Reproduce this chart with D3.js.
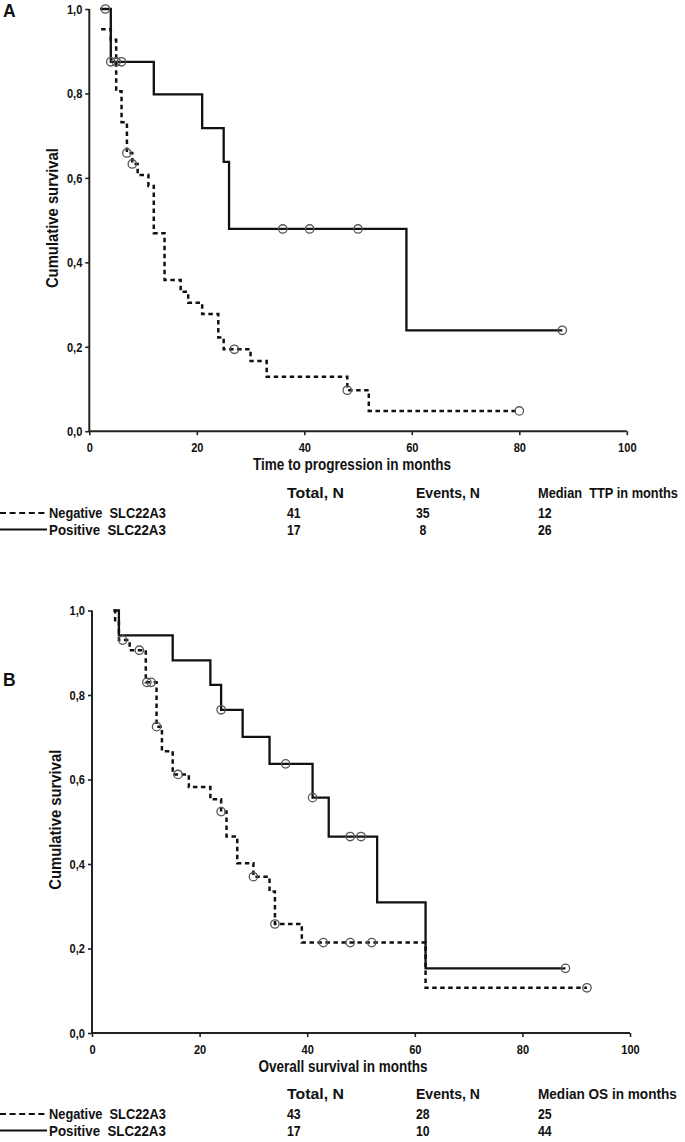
<!DOCTYPE html>
<html>
<head>
<meta charset="utf-8">
<script src="https://cdn.jsdelivr.net/npm/d3@7"></script>
<style>
  html, body { margin: 0; padding: 0; background: #fff; }
  svg { display: block; }
  .t { font-family: "Liberation Sans", Arial, sans-serif; font-weight: bold; fill: #111; }
</style>
</head>
<body>
<svg id="chart" width="685" height="1142"></svg>
<script>
// ---------- data ----------
const xTicks = [0, 20, 40, 60, 80, 100];
const yTicks = [0, 0.2, 0.4, 0.6, 0.8, 1.0];
const yTickLabels = ["0,0", "0,2", "0,4", "0,6", "0,8", "1,0"];

// Panel A – time to progression (step points: time, survival after step)
const ttpNegTime = [2.2, 4, 5, 6, 7, 8, 9, 11, 12, 14, 17, 18.4, 21, 24, 25, 30, 33, 48, 52, 80];
const ttpNegSurv = [0.952, 0.927, 0.805, 0.732, 0.659, 0.633, 0.607, 0.581, 0.469, 0.358, 0.330, 0.304, 0.2775, 0.222, 0.194, 0.166, 0.129, 0.097, 0.048, 0.048];
const ttpNegCensTime = [7, 8, 27, 48, 80];
const ttpNegCensSurv = [0.659, 0.633, 0.194, 0.097, 0.048];

const ttpPosTime = [2, 4, 12, 21, 25, 26, 59, 88];
const ttpPosSurv = [1.0, 0.875, 0.798, 0.718, 0.638, 0.479, 0.239, 0.239];
const ttpPosCensTime = [3, 4, 5, 6, 36, 41, 50, 88];
const ttpPosCensSurv = [1.0, 0.875, 0.875, 0.875, 0.479, 0.479, 0.479, 0.239];

// Panel B – overall survival
const osNegTime = [4, 4.3, 5, 7, 10, 12, 13, 15, 18, 22, 24, 25, 27, 30, 33, 34, 39, 62, 92];
const osNegSurv = [1.0, 0.977, 0.930, 0.906, 0.830, 0.725, 0.667, 0.612, 0.582, 0.553, 0.524, 0.465, 0.402, 0.370, 0.335, 0.258, 0.214, 0.107, 0.107];
const osNegCensTime = [5.7, 8.8, 10.2, 11, 12, 16, 24, 30, 34, 43, 48, 52, 92];
const osNegCensSurv = [0.930, 0.906, 0.830, 0.830, 0.725, 0.612, 0.524, 0.370, 0.258, 0.214, 0.214, 0.214, 0.107];

const osPosTime = [4, 5, 15, 22, 24, 28, 33, 41, 44, 53, 62, 88];
const osPosSurv = [1.0, 0.941, 0.882, 0.824, 0.765, 0.701, 0.637, 0.557, 0.465, 0.309, 0.153, 0.153];
const osPosCensTime = [24, 36, 41, 48, 50, 88];
const osPosCensSurv = [0.765, 0.637, 0.557, 0.465, 0.465, 0.153];

// legend tables
const groups = ["Negative  SLC22A3", "Positive  SLC22A3"];
const headersA = ["Total, N", "Events, N", "Median  TTP in months"];
const rowsA = [["41", "35", "12"], ["17", " 8", "26"]];
const headersB = ["Total, N", "Events, N", "Median OS in months"];
const rowsB = [["43", "28", "25"], ["17", "10", "44"]];

// ---------- drawing ----------
const svg = d3.select("#chart");
const zip = (a, b) => a.map((v, i) => [v, b[i]]);
const NARROW = 0.82;

// emulate a narrow bold face by condensing glyphs horizontally
function condense(sel, k) {
  sel.each(function () {
    const w = this.getComputedTextLength();
    if (w > 0) d3.select(this).attr("textLength", w * k).attr("lengthAdjust", "spacingAndGlyphs");
  });
}
function fit(sel, w) {
  sel.attr("textLength", w).attr("lengthAdjust", "spacingAndGlyphs");
}
// text drawn in a horizontally scaled group (narrow face), width given or factor
function scaledText(parent, x, y, str, size, target) {
  const gg = parent.append("g");
  const t = gg.append("text").attr("class", "t").attr("x", 0).attr("y", 0)
    .attr("font-size", size).attr("xml:space", "preserve").style("white-space", "pre").text(str);
  const w = t.node().getComputedTextLength();
  const k = target ? target / w : NARROW;
  gg.attr("transform", `translate(${x},${y}) scale(${k},1)`);
  return t;
}

function panel(cfg) {
  const x = d3.scaleLinear().domain([0, 100]).range([cfg.x0, cfg.x1]);
  const y = d3.scaleLinear().domain([0, 1]).range([cfg.yb, cfg.yt]);
  const g = svg.append("g");

  // axes
  const ax = g.append("g").attr("transform", `translate(0,${cfg.yb})`)
    .call(d3.axisBottom(x).tickValues(xTicks).tickSize(4).tickPadding(7).tickFormat(d3.format("d")));
  const ay = g.append("g").attr("transform", `translate(${cfg.x0},0)`)
    .call(d3.axisLeft(y).tickValues(yTicks).tickSize(4).tickPadding(3)
      .tickFormat((d, i) => yTickLabels[i]));
  [ax, ay].forEach(a => {
    a.select(".domain").attr("stroke", "#222").attr("stroke-width", 2);
    a.selectAll(".tick line").attr("stroke", "#222").attr("stroke-width", 1.6);
    a.selectAll(".tick text").attr("class", "t").attr("font-size", 13.5).style("font-size", "13.5px")
      .call(condense, NARROW);
  });
  ax.select(".domain").attr("d", `M${cfg.x0},0H${cfg.x1}`);
  ay.select(".domain").attr("d", `M0,${cfg.yb}V${cfg.yt}`);

  // axis titles
  g.append("text").attr("class", "t").attr("x", cfg.xlabX).attr("y", cfg.yb + 39)
    .attr("text-anchor", "middle").attr("font-size", 16.5).text(cfg.xlabel)
    .call(condense, NARROW);
  g.append("text").attr("class", "t")
    .attr("transform", `translate(${cfg.x0 - 31},${(cfg.yb + cfg.yt) / 2 - 2}) rotate(-90)`)
    .attr("text-anchor", "middle").attr("font-size", 17).text("Cumulative survival")
    .call(fit, 140);
  g.append("text").attr("x", 3).attr("y", cfg.yt + cfg.letterDy)
    .attr("font-family", "Liberation Sans, Arial, sans-serif").attr("font-weight", "bold")
    .attr("font-size", 17.5).attr("fill", "#111").text(cfg.letter);

  const line = d3.line().x(d => x(d[0])).y(d => y(d[1])).curve(d3.curveStepAfter);

  // curves
  g.append("path").datum(zip(cfg.negT, cfg.negS)).attr("d", line)
    .attr("fill", "none").attr("stroke", "#111").attr("stroke-width", 2.5)
    .attr("stroke-dasharray", "4.5,3.5");
  g.append("path").datum(zip(cfg.posT, cfg.posS)).attr("d", line)
    .attr("fill", "none").attr("stroke", "#111").attr("stroke-width", 2.3);

  // censor marks
  const cens = zip(cfg.negCT, cfg.negCS).concat(zip(cfg.posCT, cfg.posCS));
  g.selectAll("circle.c").data(cens).join("circle").attr("class", "c")
    .attr("cx", d => x(d[0])).attr("cy", d => y(d[1])).attr("r", 4.2)
    .attr("fill", "none").attr("stroke", "#555").attr("stroke-width", 1.3);

  // legend table
  const lg = g.append("g");
  const colX = [287, 416, 538];
  cfg.headers.forEach((h, i) => scaledText(lg, colX[i], cfg.legY, h, 15, cfg.headW[i]));
  groups.forEach((gName, r) => {
    const ry = cfg.legY + 20 + r * 16.5;
    lg.append("line").attr("x1", 0).attr("x2", 47).attr("y1", ry - 5).attr("y2", ry - 5)
      .attr("stroke", "#111").attr("stroke-width", 2)
      .attr("stroke-dasharray", r === 0 ? "6,3.6" : null);
    scaledText(lg, 49, ry, gName, 15, 117);
    cfg.rows[r].forEach((v, i) => scaledText(lg, colX[i], ry, v, 15, null));
  });
}

panel({
  x0: 89.3, x1: 626.8, yt: 9, yb: 431.2, letter: "A", letterDy: 8,
  xlabel: "Time to progression in months", xlabX: 352,
  negT: ttpNegTime, negS: ttpNegSurv, negCT: ttpNegCensTime, negCS: ttpNegCensSurv,
  posT: ttpPosTime, posS: ttpPosSurv, posCT: ttpPosCensTime, posCS: ttpPosCensSurv,
  headers: headersA, headW: [57, 64, 140], rows: rowsA, legY: 498
});
panel({
  x0: 92, x1: 630, yt: 610.5, yb: 1033, letter: "B", letterDy: 75.5,
  xlabel: "Overall survival in months", xlabX: 343,
  negT: osNegTime, negS: osNegSurv, negCT: osNegCensTime, negCS: osNegCensSurv,
  posT: osPosTime, posS: osPosSurv, posCT: osPosCensTime, posCS: osPosCensSurv,
  headers: headersB, headW: [57, 64, 139], rows: rowsB, legY: 1099
});
</script>
</body>
</html>
